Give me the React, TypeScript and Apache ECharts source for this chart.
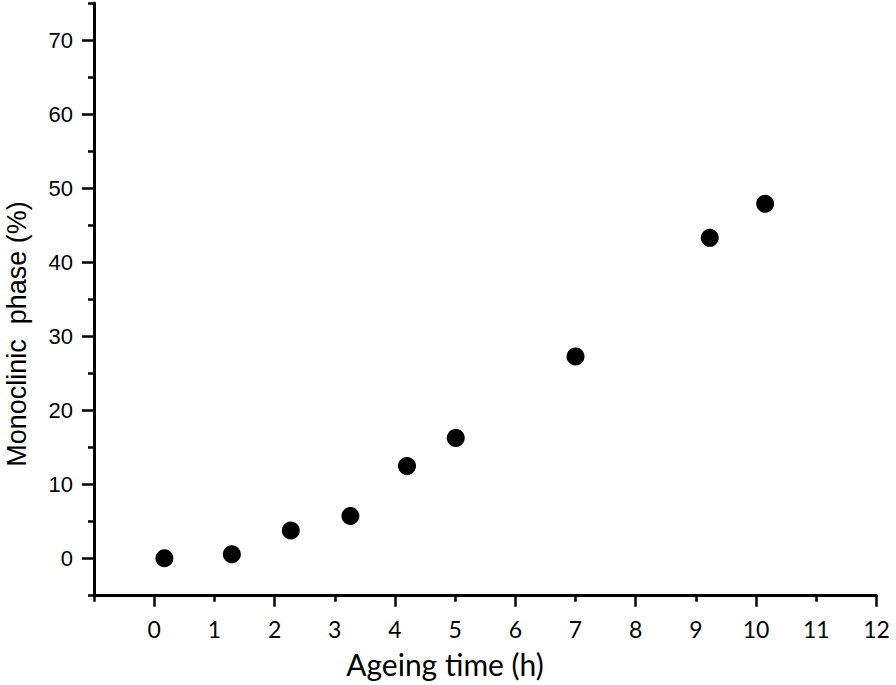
import React, { useEffect, useRef } from "react";
import * as echarts from "echarts";

const agingTime = [0.17, 1.29, 2.27, 3.26, 4.2, 5.01, 7.0, 9.23, 10.15];
const monoclinicPct = [0.05, 0.6, 3.8, 5.75, 12.5, 16.3, 27.3, 43.3, 47.9];

const xMajorTicks = [0, 2, 4, 6, 8, 10, 12];
const xMinorTicks = [-1, 1, 3, 5, 7, 9, 11];
const yMajorTicks = [0, 10, 20, 30, 40, 50, 60, 70];
const yMinorTicks = [-5, 5, 15, 25, 35, 45, 55, 65, 75];

const xTitle = "Ageing time (h)";
const yTitle = "Monoclinic\u00a0 phase (%)";

export default function App() {
  const ref = useRef<HTMLDivElement>(null);
  useEffect(() => {
    document.body.style.margin = "0";
    if (!ref.current) return;
    const chart = echarts.init(ref.current, null, { renderer: "svg" });
    const lineStyle = { color: "#000", width: 3 };
    chart.setOption({
      animation: false,
      backgroundColor: "#fff",
      grid: { left: 94, right: 19.5, top: 3, bottom: 89.3, containLabel: false },
      xAxis: [
        {
          type: "value",
          min: -1,
          max: 12,
          interval: 1,
          position: "bottom",
          splitLine: { show: false },
          axisLine: { show: true, onZero: false, lineStyle },
          axisTick: { show: true, length: 11, lineStyle: { color: "#000", width: 2.5 }, customValues: xMajorTicks },
          axisLabel: {
            color: "#000",
            fontFamily: "Lato",
            fontSize: 23,
            margin: 22,
            formatter: (v: number) => (v < 0 ? "" : String(v)),
          },
        },
        {
          type: "value",
          min: -1,
          max: 12,
          interval: 1,
          position: "bottom",
          offset: 0,
          splitLine: { show: false },
          axisLine: { show: false, onZero: false },
          axisTick: { show: true, length: 6, lineStyle: { color: "#000", width: 2.5 }, customValues: xMinorTicks },
          axisLabel: { show: false },
        },
      ],
      yAxis: [
        {
          type: "value",
          min: -5,
          max: 75,
          interval: 5,
          position: "left",
          splitLine: { show: false },
          axisLine: { show: true, onZero: false, lineStyle },
          axisTick: { show: true, length: 12, lineStyle: { color: "#000", width: 2.5 }, customValues: yMajorTicks },
          axisLabel: {
            color: "#000",
            fontFamily: "Liberation Sans",
            fontSize: 22,
            margin: 21,
            customValues: yMajorTicks,
          },
        },
        {
          type: "value",
          min: -5,
          max: 75,
          interval: 5,
          position: "left",
          offset: 0,
          splitLine: { show: false },
          axisLine: { show: false, onZero: false },
          axisTick: { show: true, length: 6, lineStyle: { color: "#000", width: 2.5 }, customValues: yMinorTicks },
          axisLabel: { show: false },
        },
      ],
      graphic: [
        {
          type: "text",
          x: 17,
          y: 334,
          rotation: Math.PI / 2,
          style: {
            text: yTitle,
            fill: "#000",
            font: '27px "Liberation Sans"',
            align: "center",
            verticalAlign: "middle",
          },
        },
        {
          type: "text",
          x: 445,
          y: 664,
          style: {
            text: xTitle,
            fill: "#000",
            font: '30px "Lato"',
            align: "center",
            verticalAlign: "middle",
          },
        },
      ],
      series: [
        {
          type: "scatter",
          xAxisIndex: 0,
          yAxisIndex: 0,
          symbol: "circle",
          symbolSize: 18,
          itemStyle: { color: "#000", opacity: 1 },
          data: agingTime.map((t, i) => [t, monoclinicPct[i]]),
        },
      ],
    });
    return () => chart.dispose();
  }, []);
  return <div ref={ref} style={{ width: 896, height: 685 }} />;
}
